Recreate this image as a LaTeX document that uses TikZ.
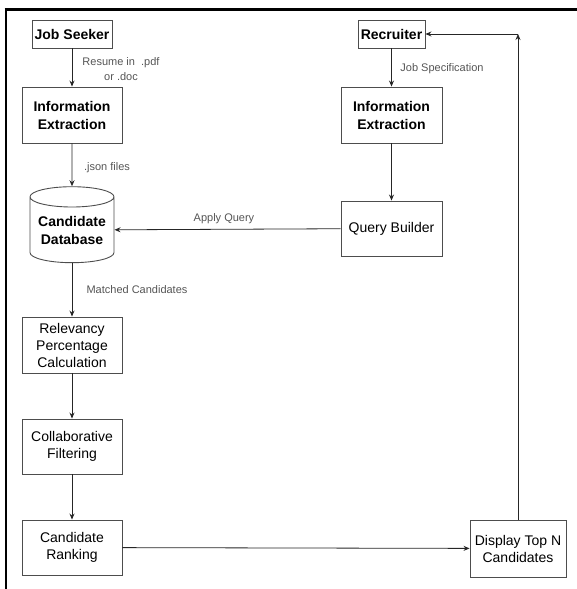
\documentclass[tikz,border=0pt]{standalone}
\usepackage{fontspec}
\setmainfont{Liberation Sans}
\usetikzlibrary{shapes.geometric, arrows.meta}

\definecolor{boxgray}{HTML}{4D4D4D}
\definecolor{labelgray}{HTML}{555555}

\tikzset{
  box/.style = {draw = boxgray, line width = 0.9pt, align = center, inner sep = 0pt,
                font = \fontsize{14}{17}\selectfont},
  bbox/.style = {box, font = \fontsize{14}{18}\selectfont\bfseries},
  lbl/.style = {text = labelgray, align = center, inner sep = 0pt,
                font = \fontsize{11}{15}\selectfont},
  flow/.style = {draw = black!85, line width = 0.8pt, -{Stealth[length = 6pt, width = 5pt]}}
}

\begin{document}
\begin{tikzpicture}[x = 1pt, y = -1pt]
		\useasboundingbox (0, 0) rectangle (577, 589);
		%%%%%%%%%%%%%
		\draw [line width = 3pt] (4.5, 9.5) -- (577, 9.5);
		\draw [line width = 2.5pt] (6, 8) -- (6, 589);
		%%%%%%%%%%%%%
		\node [bbox, minimum width = 80, minimum height = 28] (js) at (72, 34) {Job Seeker};
		\node [bbox, minimum width = 100, minimum height = 56] (ie1) at (72, 115) {Information\\Extraction};
		\node [bbox, cylinder, shape border rotate = 90, aspect = 0.3,
		       minimum width = 84, minimum height = 76] (db) at (72, 230) {Candidate\\Database};
		\node [box, minimum width = 100, minimum height = 56] (rel) at (72, 345) {Relevancy\\Percentage\\Calculation};
		\node [box, minimum width = 100, minimum height = 55] (cf) at (72, 446.5) {Collaborative\\Filtering};
		\node [box, minimum width = 100, minimum height = 55] (cr) at (72, 547.5) {Candidate\\Ranking};
		%%%%%%%%%%%%%
		\node [bbox, minimum width = 67, minimum height = 28] (rec) at (391.5, 34) {Recruiter};
		\node [bbox, minimum width = 101, minimum height = 56] (ie2) at (391.5, 115) {Information\\Extraction};
		\node [box, minimum width = 101, minimum height = 55] (qb) at (391.5, 228.5) {Query Builder};
		\node [box, minimum width = 96, minimum height = 57] (disp) at (518, 548.5) {Display Top N\\Candidates};
		\coordinate (top) at (518, 34);
		%%%%%%%%%%%%%
		\node [lbl] (l1) at (121, 69.5) {Resume in\ \ .pdf\\or .doc};
		\node [lbl] (l2) at (107, 168) {.json files};
		\node [lbl] (l3) at (224, 219) {Apply Query};
		\node [lbl] (l4) at (442, 69) {Job Specification};
		\node [lbl] (l5) at (137, 290) {Matched Candidates};
		%%%%%%%%%%%%%
		\draw [flow] (js) to (ie1); \draw [flow] (ie1) to (db);
		\draw [flow] (db) to (rel); \draw [flow] (rel) to (cf);
		\draw [flow] (cf) to (cr); \draw [flow] (cr) to (disp);
		\draw [flow] (rec) to (ie2); \draw [flow] (ie2) to (qb);
		\draw [flow] (qb) to (db);
		\draw [flow] (disp) to (top); \draw [flow] (top) to (rec);
\end{tikzpicture}
\end{document}
